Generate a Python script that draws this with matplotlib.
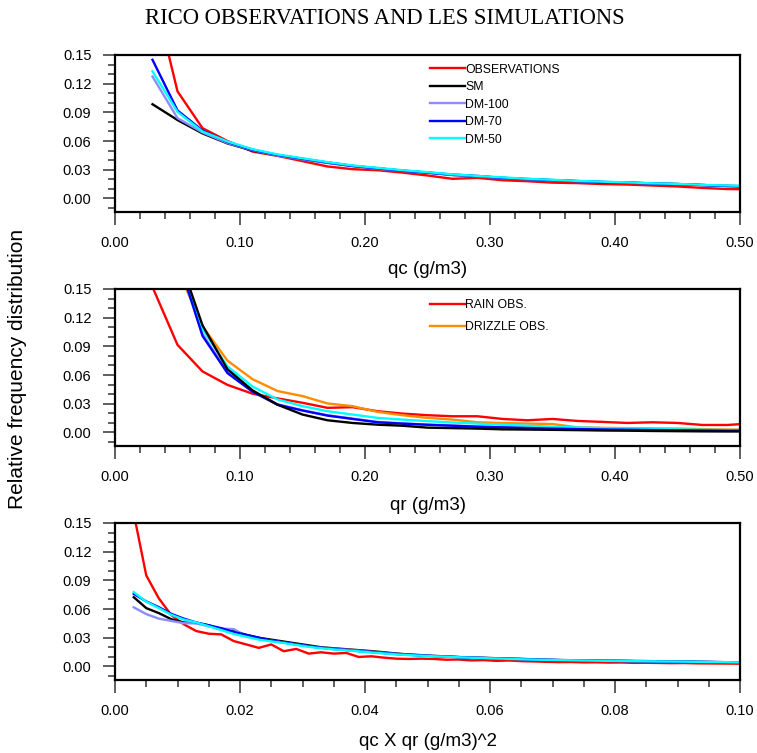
import numpy as np
import matplotlib
matplotlib.use("Agg")
import matplotlib.pyplot as plt
from matplotlib.ticker import MultipleLocator, FormatStrFormatter

# ---------------- data ----------------
# Panel 1: qc (g/m3)
qc_x = [0.03, 0.05, 0.07, 0.09, 0.11, 0.13, 0.15, 0.17, 0.19, 0.21, 0.23, 0.25, 0.27,
        0.29, 0.31, 0.33, 0.35, 0.37, 0.39, 0.41, 0.43, 0.45, 0.47, 0.49, 0.51]
qc_obs = [0.220, 0.112, 0.0735, 0.060, 0.049, 0.0445, 0.039, 0.0334, 0.0306, 0.0295, 0.027,
          0.024, 0.0205, 0.0215, 0.019, 0.018, 0.0165, 0.016, 0.015, 0.0145, 0.0135, 0.0125,
          0.011, 0.0098, 0.0095]
qc_sm = [0.0985, 0.082, 0.068, 0.0575, 0.050, 0.045, 0.041, 0.0375, 0.034, 0.0315, 0.029,
         0.027, 0.0245, 0.023, 0.0215, 0.020, 0.019, 0.018, 0.017, 0.0165, 0.0155, 0.015,
         0.014, 0.013, 0.0125]
qc_dm100 = [0.1275, 0.084, 0.069, 0.058, 0.0505, 0.0448, 0.0408, 0.037, 0.0338, 0.031, 0.0288,
            0.0268, 0.0245, 0.023, 0.0213, 0.020, 0.019, 0.018, 0.0172, 0.0165, 0.0155, 0.015,
            0.014, 0.0132, 0.0127]
qc_dm70 = [0.145, 0.092, 0.071, 0.059, 0.051, 0.0455, 0.0415, 0.0375, 0.034, 0.0315, 0.029,
           0.027, 0.025, 0.0235, 0.0215, 0.0203, 0.0192, 0.0182, 0.0172, 0.0167, 0.0157, 0.015,
           0.014, 0.013, 0.0125]
qc_dm50 = [0.133, 0.0905, 0.070, 0.0595, 0.0515, 0.046, 0.042, 0.038, 0.0345, 0.032, 0.0295,
           0.0275, 0.0252, 0.0235, 0.022, 0.0205, 0.0195, 0.0183, 0.0175, 0.0168, 0.0158, 0.0152,
           0.0142, 0.0135, 0.013]

# Panel 2: qr (g/m3)
qr_x = [0.01, 0.03, 0.05, 0.07, 0.09, 0.11, 0.13, 0.15, 0.17, 0.19, 0.21, 0.23, 0.25, 0.27,
        0.29, 0.31, 0.33, 0.35, 0.37, 0.39, 0.41, 0.43, 0.45, 0.47, 0.49, 0.51]
qr_rain = [0.300, 0.152, 0.0916, 0.0638, 0.0497, 0.0405, 0.0356, 0.031, 0.0257, 0.0264, 0.0222,
           0.0197, 0.018, 0.0169, 0.0169, 0.0141, 0.0127, 0.0141, 0.012, 0.011, 0.0099, 0.0106,
           0.0099, 0.0078, 0.0078, 0.0095]
qr_drizzle = [0.40, 0.30, 0.171, 0.111, 0.075, 0.0557, 0.0433, 0.038, 0.0303, 0.0275, 0.0215,
              0.018, 0.0152, 0.0134, 0.0106, 0.0098, 0.0092, 0.0088, 0.0053, 0.0048, 0.0045,
              0.0042, 0.004, 0.0035, 0.003, 0.003]
qr_sm = [0.40, 0.30, 0.188, 0.112, 0.066, 0.044, 0.029, 0.0187, 0.0127, 0.0099, 0.0081, 0.007,
         0.005, 0.0045, 0.004, 0.0032, 0.003, 0.0027, 0.0024, 0.002, 0.0018, 0.0015, 0.0013,
         0.0011, 0.001, 0.001]
qr_dm100 = [0.40, 0.30, 0.185, 0.103, 0.063, 0.043, 0.0295, 0.0232, 0.018, 0.0145, 0.011,
            0.0095, 0.0082, 0.0072, 0.0062, 0.0055, 0.0048, 0.0042, 0.0037, 0.0033, 0.003,
            0.0027, 0.0024, 0.0022, 0.002, 0.002]
qr_dm70 = [0.40, 0.30, 0.183, 0.101, 0.062, 0.0426, 0.029, 0.0229, 0.0176, 0.0141, 0.0106,
           0.0092, 0.008, 0.007, 0.006, 0.0053, 0.0046, 0.004, 0.0035, 0.0031, 0.0028, 0.0025,
           0.0022, 0.002, 0.0018, 0.0018]
qr_dm50 = [0.40, 0.30, 0.182, 0.108, 0.069, 0.048, 0.0345, 0.0275, 0.0222, 0.0187, 0.0152,
           0.0134, 0.0118, 0.0104, 0.0092, 0.008, 0.007, 0.006, 0.0052, 0.0045, 0.004, 0.0035,
           0.0032, 0.0028, 0.0025, 0.0025]

# Panel 3: qc X qr (g/m3)^2
qq_x_obs = [0.001, 0.003, 0.005, 0.007, 0.009, 0.011, 0.013, 0.015, 0.017, 0.019, 0.021,
            0.023, 0.025, 0.027, 0.029, 0.031, 0.033, 0.035, 0.037, 0.039, 0.041, 0.043, 0.045,
            0.047, 0.049, 0.051, 0.053, 0.055, 0.057, 0.059, 0.061, 0.063, 0.065, 0.067, 0.069,
            0.071, 0.073, 0.075, 0.077, 0.079, 0.081, 0.083, 0.085, 0.087, 0.089, 0.091, 0.093,
            0.095, 0.097, 0.099, 0.101]
qq_obs = [0.25, 0.160, 0.0952, 0.0713, 0.0537, 0.0441, 0.037, 0.0342, 0.0335, 0.0265, 0.023,
          0.0194, 0.023, 0.0159, 0.0183, 0.0134, 0.0148, 0.0134, 0.0141, 0.0099, 0.0106, 0.0092,
          0.0081, 0.0078, 0.0081, 0.0078, 0.007, 0.0072, 0.0063, 0.0066, 0.0058, 0.0062, 0.0055,
          0.0052, 0.0048, 0.0045, 0.0046, 0.0042, 0.0043, 0.004, 0.0041, 0.0037, 0.0038, 0.0036,
          0.0034, 0.0035, 0.0032, 0.0031, 0.003, 0.0029, 0.0028]
qq_x = [0.003, 0.005, 0.007, 0.009, 0.011, 0.013, 0.015, 0.017, 0.019, 0.021, 0.023,
        0.025, 0.027, 0.029, 0.031, 0.033, 0.035, 0.037, 0.039, 0.041, 0.043, 0.045, 0.047,
        0.049, 0.051, 0.053, 0.055, 0.057, 0.059, 0.061, 0.063, 0.065, 0.067, 0.069, 0.071,
        0.073, 0.075, 0.077, 0.079, 0.081, 0.083, 0.085, 0.087, 0.089, 0.091, 0.093, 0.095,
        0.097, 0.099, 0.101]
qq_sm = [0.0724, 0.061, 0.0558, 0.0494, 0.0459, 0.0455, 0.043, 0.0388, 0.037, 0.033,
         0.030, 0.028, 0.026, 0.024, 0.022, 0.020, 0.019, 0.018, 0.017, 0.016, 0.0148, 0.0135,
         0.0125, 0.0118, 0.011, 0.0105, 0.0098, 0.0093, 0.009, 0.0086, 0.0082, 0.0079, 0.0074,
         0.007, 0.0067, 0.0065, 0.0063, 0.0062, 0.006, 0.0059, 0.0057, 0.0056, 0.0054, 0.0052,
         0.0051, 0.0049, 0.0047, 0.0045, 0.0043, 0.0042]
qq_dm100 = [0.0618, 0.0547, 0.050, 0.0476, 0.0452, 0.045, 0.042, 0.0395, 0.039, 0.0317,
            0.029, 0.027, 0.025, 0.023, 0.021, 0.0195, 0.0185, 0.0175, 0.0165, 0.0153, 0.0142,
            0.013, 0.0122, 0.0115, 0.011, 0.0104, 0.0098, 0.0093, 0.0089, 0.0085, 0.0081, 0.0077,
            0.0073, 0.007, 0.0067, 0.0065, 0.0063, 0.0061, 0.006, 0.0058, 0.0056, 0.0055, 0.0053,
            0.0052, 0.005, 0.0049, 0.0047, 0.0045, 0.0043, 0.0042]
qq_dm70 = [0.0759, 0.068, 0.062, 0.055, 0.050, 0.046, 0.043, 0.040, 0.036, 0.033, 0.030,
           0.027, 0.025, 0.023, 0.0212, 0.0195, 0.0182, 0.0172, 0.016, 0.015, 0.014, 0.013,
           0.0122, 0.0115, 0.0108, 0.0102, 0.0097, 0.0092, 0.0088, 0.0084, 0.008, 0.0076, 0.0072,
           0.0069, 0.0066, 0.0064, 0.0062, 0.006, 0.0058, 0.0057, 0.0055, 0.0054, 0.0052, 0.0051,
           0.005, 0.0048, 0.0046, 0.0044, 0.0043, 0.0042]
qq_dm50 = [0.0777, 0.0677, 0.061, 0.054, 0.049, 0.046, 0.042, 0.038, 0.034, 0.031, 0.028,
           0.0262, 0.0245, 0.0225, 0.0205, 0.019, 0.0178, 0.0168, 0.0158, 0.0146, 0.0136,
           0.0126, 0.0118, 0.0112, 0.0106, 0.0101, 0.0096, 0.0091, 0.0087, 0.0083, 0.0079,
           0.0075, 0.0071, 0.0068, 0.0066, 0.0064, 0.0062, 0.006, 0.0058, 0.0057, 0.0055, 0.0054,
           0.0052, 0.0051, 0.005, 0.0048, 0.0046, 0.0045, 0.0043, 0.0042]

C_RED = "#ff0000"
C_BLACK = "#000000"
C_LBLUE = "#8c8cff"
C_BLUE = "#0000ff"
C_CYAN = "#00ffff"
C_ORANGE = "#ff8c00"

SANS = ["Liberation Sans", "DejaVu Sans"]
SERIF = ["Liberation Serif", "DejaVu Serif"]

fig = plt.figure(figsize=(7.57, 7.53), dpi=100)
W, H = 757.0, 753.0
left = 115 / W
width = 625 / W
hgt = 157 / H
bottoms = [1 - 212 / H, 1 - 446 / H, 1 - 680 / H]
axes = [fig.add_axes([left, b, width, hgt]) for b in bottoms]

LW = 1.7


def style(ax, xmax, xmaj, xmin):
    ax.set_xlim(0, xmax)
    ax.set_ylim(-0.0142, 0.15)
    ax.xaxis.set_major_locator(MultipleLocator(xmaj))
    ax.xaxis.set_minor_locator(MultipleLocator(xmin))
    ax.yaxis.set_major_locator(MultipleLocator(0.03))
    ax.yaxis.set_minor_locator(MultipleLocator(0.01))
    ax.xaxis.set_major_formatter(FormatStrFormatter("%.2f"))
    ax.yaxis.set_major_formatter(FormatStrFormatter("%.2f"))
    ax.tick_params(which="both", direction="out", top=False, right=False,
                   color="#333333", width=1.1)
    ax.tick_params(which="major", length=9, pad=8, labelsize=10.5)
    ax.tick_params(which="minor", length=4.8)
    for lab in ax.get_xticklabels() + ax.get_yticklabels():
        lab.set_family(SANS)
    for s in ax.spines.values():
        s.set_linewidth(1.6)


# Panel 1
ax = axes[0]
ax.plot(qc_x, qc_obs, color=C_RED, lw=LW, label="OBSERVATIONS")
ax.plot(qc_x, qc_sm, color=C_BLACK, lw=LW, label="SM")
ax.plot(qc_x, qc_dm100, color=C_LBLUE, lw=LW, label="DM-100")
ax.plot(qc_x, qc_dm70, color=C_BLUE, lw=LW, label="DM-70")
ax.plot(qc_x, qc_dm50, color=C_CYAN, lw=LW, label="DM-50")
style(ax, 0.5, 0.1, 0.02)
ax.legend(loc="upper left", bbox_to_anchor=(0.504, 0.945), frameon=False,
          handlelength=2.9, handletextpad=0.0, labelspacing=0.45, borderpad=0,
          borderaxespad=0, prop={"family": SANS, "size": 8.8})

# Panel 2
ax = axes[1]
ax.plot(qr_x, qr_rain, color=C_RED, lw=LW, label="RAIN OBS.")
ax.plot(qr_x, qr_drizzle, color=C_ORANGE, lw=LW, label="DRIZZLE OBS.")
ax.plot(qr_x, qr_dm100, color=C_LBLUE, lw=LW)
ax.plot(qr_x, qr_dm50, color=C_CYAN, lw=LW)
ax.plot(qr_x, qr_dm70, color=C_BLUE, lw=LW)
ax.plot(qr_x, qr_sm, color=C_BLACK, lw=LW)
style(ax, 0.5, 0.1, 0.02)
ax.legend(loc="upper left", bbox_to_anchor=(0.504, 0.937), frameon=False,
          handlelength=2.9, handletextpad=0.0, labelspacing=0.82, borderpad=0,
          borderaxespad=0, prop={"family": SANS, "size": 8.8})

# Panel 3
ax = axes[2]
ax.plot(qq_x_obs, qq_obs, color=C_RED, lw=LW)
ax.plot(qq_x, qq_sm, color=C_BLACK, lw=LW)
ax.plot(qq_x, qq_dm100, color=C_LBLUE, lw=LW)
ax.plot(qq_x, qq_dm70, color=C_BLUE, lw=LW)
ax.plot(qq_x, qq_dm50, color=C_CYAN, lw=LW)
style(ax, 0.1, 0.02, 0.005)

# axis titles
xlabels = ["qc (g/m3)", "qr (g/m3)", "qc X qr (g/m3)^2"]
xlab_y = [270, 505, 741]
for lab, yy in zip(xlabels, xlab_y):
    fig.text((115 + 740) / 2 / W, 1 - yy / H, lab, ha="center", va="center",
             family=SANS, fontsize=13.5)

fig.text(18 / W, 1 - 369 / H, "Relative frequency distribution", rotation=90,
         ha="center", va="center", family=SANS, fontsize=15)
fig.text(385 / W, 1 - 18 / H, "RICO OBSERVATIONS AND LES SIMULATIONS", ha="center",
         va="center", family=SERIF, fontsize=16.3)

fig.savefig("out.png", dpi=100)
